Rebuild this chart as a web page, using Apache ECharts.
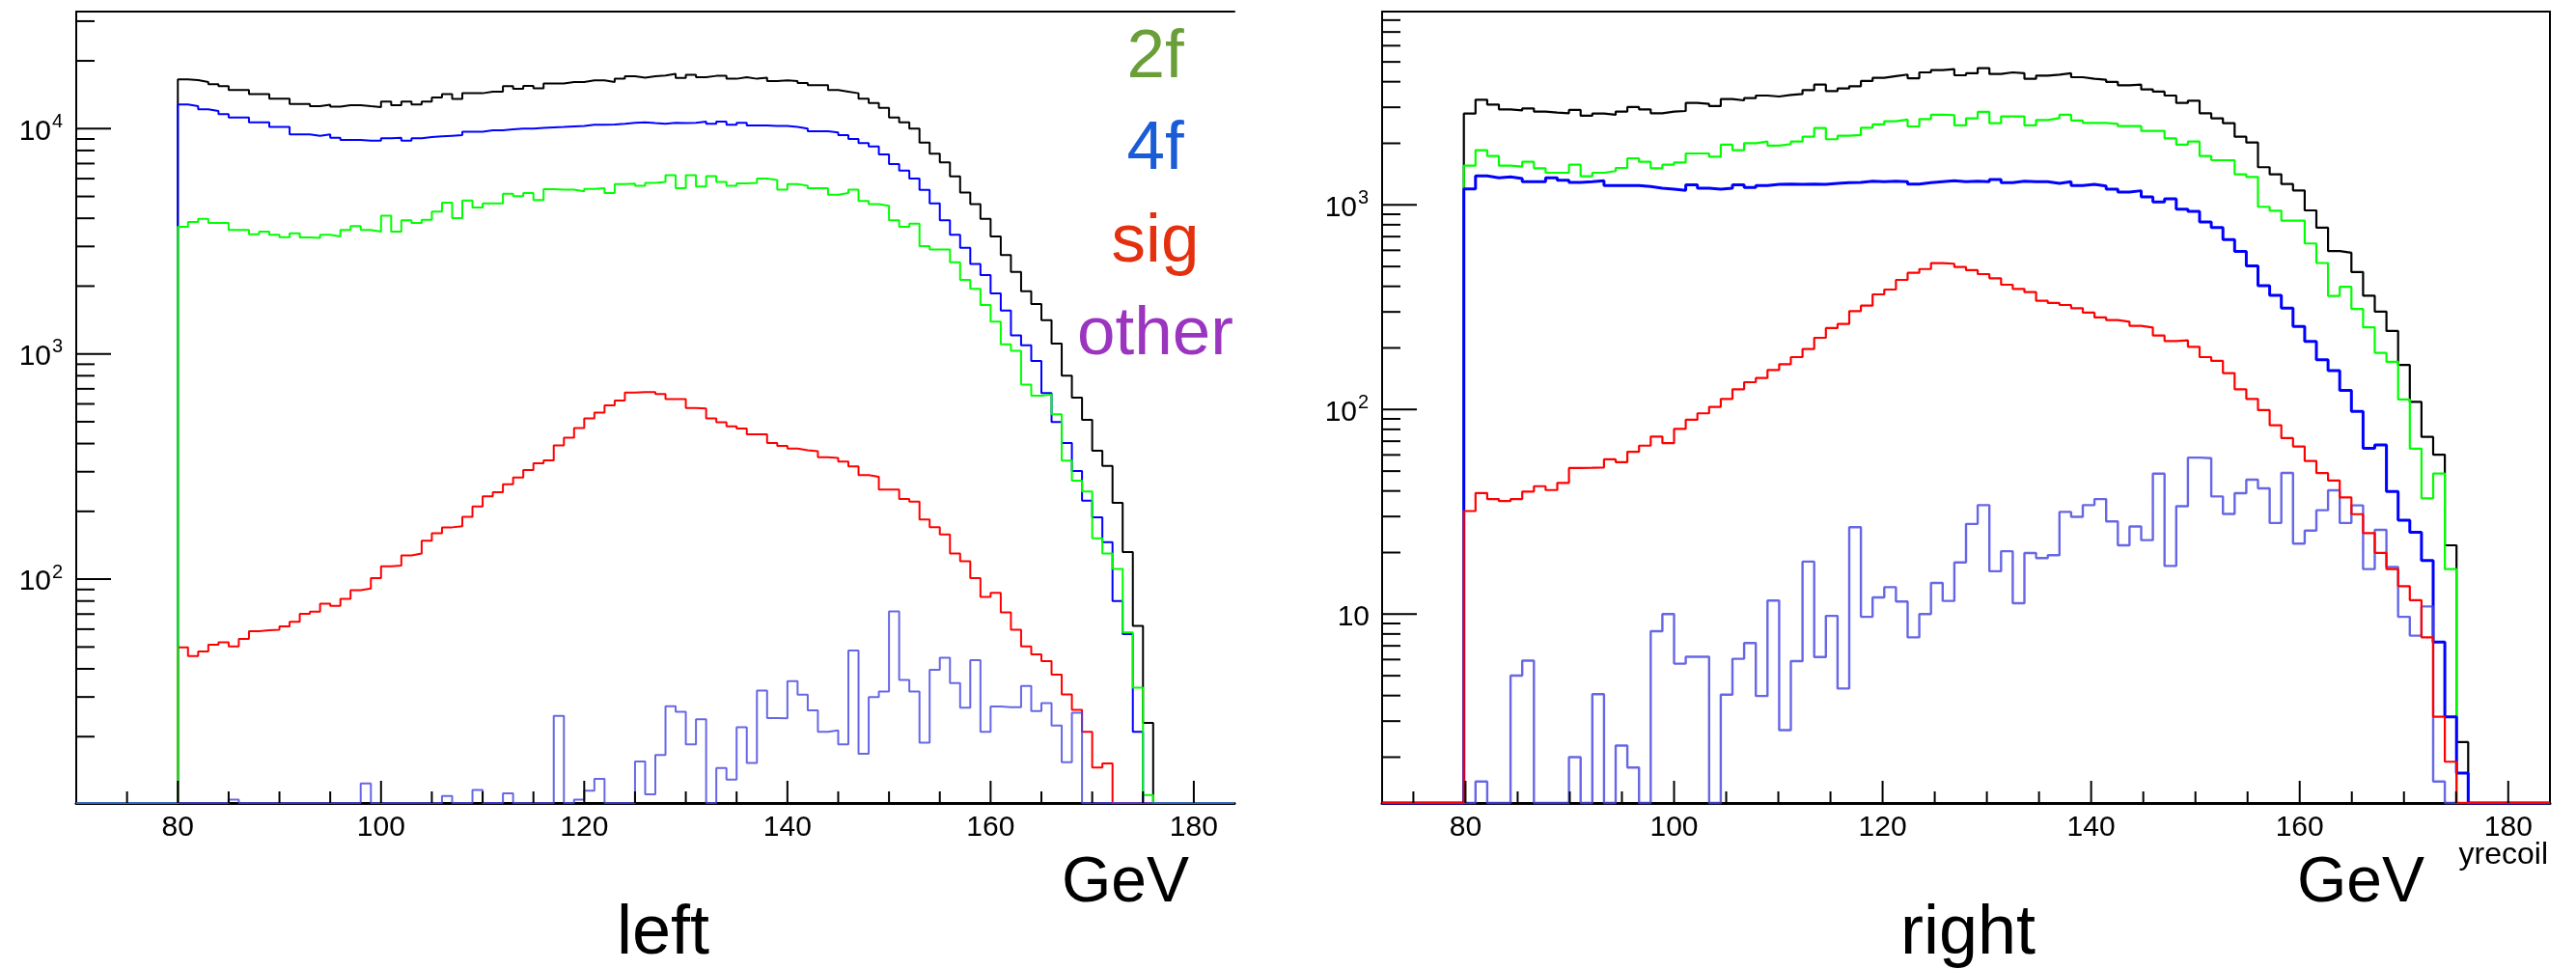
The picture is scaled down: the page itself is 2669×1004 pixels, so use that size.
<!DOCTYPE html>
<html><head><meta charset="utf-8">
<script src="https://cdn.jsdelivr.net/npm/echarts@6/dist/echarts.min.js"></script>
<style>html,body{margin:0;padding:0;background:#fff}#c{width:2669px;height:1004px}</style>
</head><body><div id="c"></div>
<script>
// ================= DATA =================
// Left panel: 1 GeV bins, first bin starts at 80 GeV
const leftBinStart = 80, leftBinWidth = 1;
const leftBlack = [16540,16430,16110,15750,15440,14840,14840,14220,14220,13580,13580,12880,12880,12590,12760,12510,12720,12720,12590,12470,
 13180,12720,13180,12800,13180,13760,14220,13540,14360,14360,14600,14600,15440,15040,15490,15090,15850,15850,16110,16110,
 16380,16380,16110,16650,17100,16820,17100,17200,17500,16800,17320,16930,17150,17150,16650,16930,16650,16820,16270,16380,
 16270,15950,15590,15590,14840,14600,14360,13580,13010,12380,11220,10680,10000,8680,7740,7080,6140,5210,4620,3980,
 3320,2750,2310,1900,1665,1410,1110,800,640,510,372,318,218,132,62,23];
const leftBlue = [12800,12590,12180,11980,11590,11220,11220,10680,10680,10170,10170,9430,9430,9300,9430,9120,8910,8910,8850,8850,
 9060,9120,8850,9060,9180,9240,9300,9360,9680,9680,9840,9840,9930,10000,10000,10070,10130,10170,10230,10270,
 10400,10400,10440,10500,10610,10680,10580,10500,10610,10580,10610,10750,10500,10750,10400,10610,10340,10340,10270,10270,
 10170,10000,9740,9740,9610,9360,9000,8620,8340,7690,6960,6520,6000,5350,4660,3920,3380,2960,2510,2240,
 1855,1560,1210,1093,930,670,499,402,302,223,188,146,80,57,21,0];
const leftGreen = [3665,3850,3980,3815,3815,3550,3550,3400,3490,3380,3300,3430,3290,3270,3380,3320,3550,3690,3550,3490,
 4110,3490,3920,3815,3940,4280,4690,4010,4800,4470,4660,4660,5140,5010,5180,4820,5390,5360,5360,5270,
 5400,5440,5180,5680,5700,5580,5750,5800,6210,5440,6210,5530,6150,5800,5580,5710,5750,6000,5910,5360,
 5680,5580,5440,5440,5095,5180,5360,4770,4620,4540,3920,3665,3790,3010,2910,2910,2550,2130,1943,1648,
 1390,1104,1033,731,652,660,540,336,274,245,152,130,111,58,33,11];
const leftRed = [49.8,45.6,47.8,51.2,52.5,50.3,54.3,58.7,59.3,59.7,61.8,64.7,70.1,71.8,77.8,76.2,81.7,89.4,91,101,
 114,115,127.6,129.9,148.3,160.1,169.9,171.7,189.3,210.2,233.3,243.3,263.6,282.7,305.1,327.2,336.5,392.3,425,469,
 518,549,591,621,674,677,677,663,631,631,575,572,518,497,477,467,440,440,402,391,
 380,374,370,348,345,333,317,290,285,250,250,227,221,184,170,158,130,120,101,83.4,
 87,71.3,59.7,50.3,46.4,43.3,37.7,30.8,26.3,21,14.6,15.2,0,0,0,0];
const leftOther = [0,0,0,0,0,10.5,0,0,0,0,0,0,0,0,0,0,0,0,12.4,0,
 0,0,0,0,0,0,10.9,0,0,11.6,0,0,11.2,0,0,0,0,24.7,0,10.5,
 11.5,13,0,0,0,15.5,11.1,16.6,27.3,25.8,18.5,23.9,0,14.5,12.9,22,15.3,32,24.2,24.1,
 35.3,30.7,26.2,21,21.3,18.5,48.2,16.8,30,31.7,72,35.7,31.7,18.8,39.6,44.8,34.6,26.9,43.7,21,
 27.2,27,27,33.6,26,28.2,22.4,15.4,25.5,0,0,0,0,0,0,0];

// Right panel: 1.12 GeV bins, first filled bin starts at 79.84 GeV
const rightBinStart = 79.84, rightBinWidth = 1.12;
const rightBlack = [2796,3268,3095,2931,2899,2963,2858,2827,2806,2910,2726,2796,2756,2858,3006,2931,2806,2858,2878,3151,
 3117,3039,3291,3243,3327,3424,3387,3449,3487,3641,3873,3602,3708,3804,4031,4179,4256,4334,4160,4444,
 4558,4608,4300,4397,4659,4365,4444,4397,4134,4287,4334,4397,4209,4134,4089,3987,3845,3873,3668,3577,
 3424,3151,3232,2806,2649,2508,2154,2018,1528,1411,1265,1177,940,774,595,584,470,360,301,242,
 165,109,73.5,60.2,21.7,2.37];
const rightGreen = [1555,1851,1734,1555,1538,1624,1511,1436,1436,1572,1380,1436,1463,1516,1690,1624,1511,1572,1613,1784,
 1784,1721,1968,1851,2004,2040,1947,1983,2040,2154,2376,2094,2178,2194,2385,2473,2564,2611,2419,2630,
 2756,2748,2446,2649,2848,2508,2707,2707,2446,2601,2657,2756,2582,2517,2517,2490,2428,2428,2299,2299,
 2116,1968,2040,1734,1654,1654,1411,1370,979,937,838,838,648,520,359,398,310,252,189,171,
 112,64.4,36.8,48.7,16.6,0];
const rightBlue = [1198,1385,1356,1370,1345,1298,1298,1356,1321,1289,1298,1312,1243,1243,1243,1229,1207,1194,1177,1252,
 1207,1194,1207,1252,1216,1243,1261,1265,1261,1265,1261,1274,1284,1289,1307,1298,1307,1298,1265,1284,
 1298,1312,1298,1307,1298,1331,1284,1307,1298,1298,1274,1298,1243,1261,1238,1194,1156,1173,1095,1033,
 1071,954,930,825,776,677,592,503,403,361,313,254.5,215,175,155,124,98,64.6,67.2,39.8,
 28.8,25.1,18.3,7.3,3.15,1.67];
const rightRed = [31.9,39.1,36.5,35.7,36.5,39.7,42.2,40.4,43.8,51.8,51.9,52.1,57.1,55.3,62.2,66.6,73.8,68.5,80.5,89.1,
 95.8,103,112.7,125.6,136,142.6,156.1,166.6,180.4,197.6,224.2,250,262,302.8,322,365.5,385.8,430,465.8,486,
 519,516,497,479.6,459,438,407.4,388.8,374.9,340,331.5,324.3,312.9,297.4,281.7,273.6,268.7,256.4,251.8,229.9,
 216.2,217.8,202.6,180.4,172.8,150.6,125.6,112.7,99.3,83.8,72.5,66,56.1,48.9,45,37.2,30.8,24.9,19.9,16.6,
 13.7,11.7,7.7,3.15,1.9,0];
const rightOther = [0,1.52,0,0,5.01,5.93,0,0,0,2.0,0,4.06,0,2.28,1.78,0,8.25,10,5.73,6.19,
 6.19,0,4.04,6.05,7.22,3.98,11.66,2.71,5.89,18.06,6.17,9.81,4.33,26.6,9.7,12.07,13.54,11.53,7.7,10,
 14.2,11.6,17.9,27.6,34.1,16.2,20.3,11.3,19.9,18.8,19.4,31.6,29.9,34.1,36.5,28.4,21.7,26.8,23,48.6,
 17.2,33.7,58.2,57.8,37.6,30.9,39,45.4,41.2,27.9,49,22.1,25.6,32.2,40.3,27.9,34,16.6,25.8,17,
 9.7,7.85,10.9,1.52,0,0];

// Axis ticks and labels
const xMajorTicks = [80,100,120,140,160,180];
const xMinorTicks = [75,85,90,95,105,110,115,125,130,135,145,150,155,165,170,175];
const leftYMajor = [100,1000,10000];
const leftYMajorExp = ['2','3','4'];
const leftYMinor = [20,30,40,50,60,70,80,90,200,300,400,500,600,700,800,900,2000,3000,4000,5000,6000,7000,8000,9000,20000,30000];
const rightYMajor = [10,100,1000];
const rightYMajorExp = ['','2','3'];
const rightYMinor = [2,3,4,5,6,7,8,9,20,30,40,50,60,70,80,90,200,300,400,500,600,700,800,900,2000,3000,4000,5000,6000,7000,8000];
const legendNames = ['2f','4f','sig','other'];
const legendColors = ['#6a9e38','#1a5cd6','#e3300f','#9b34bf'];
const panelTitles = ['left','right'];
const unitLabel = 'GeV';
const xVarLabel = 'yrecoil';

// ================= CHART =================
const FONT = '"Liberation Sans", Arial, Helvetica, sans-serif';
const L = {xmin:70, xmax:184, ymin:10.15, ymax:33090};
const R = {xmin:72, xmax:184, ymin:1.194, ymax:8807};

function histPoints(start, width, vals, rng){
  const pts=[[rng.xmin, rng.ymin]];
  for(let i=0;i<vals.length;i++) pts.push([+(start+i*width).toFixed(4), vals[i]>0?vals[i]:rng.ymin]);
  pts.push([+(start+vals.length*width).toFixed(4), rng.ymin]);
  pts.push([rng.xmax, rng.ymin]);
  return pts;
}
function hist(name, xi, yi, pts, color, w){
  return {name, type:'line', xAxisIndex:xi, yAxisIndex:yi, data:pts, step:'end',
    showSymbol:false, symbol:'none', clip:false, silent:true, animation:false,
    lineStyle:{color, width:w}};
}
function decor(xi, yi, rng, yMajor, yExp, yMinor){
  return {type:'custom', xAxisIndex:xi, yAxisIndex:yi, data:[[rng.xmin, rng.ymin]], clip:false, silent:true, z:10, animation:false,
    renderItem:function(params, api){
      const ch=[];
      const ln=(x1,y1,x2,y2)=>ch.push({type:'line',shape:{x1,y1,x2,y2},style:{stroke:'#000',lineWidth:2}});
      const tx=(x,y,t,size,align)=>ch.push({type:'text',x,y,style:{text:t,font:size+'px '+FONT,fill:'#000',align:align,verticalAlign:'middle'}});
      yMajor.forEach((v,i)=>{
        const p=api.coord([rng.xmin,v]); ln(p[0],p[1],p[0]+36,p[1]);
        if(yExp[i]){ tx(p[0]-26,p[1]+3,'10',30,'right'); tx(p[0]-25,p[1]-7,yExp[i],20,'left'); }
        else { tx(p[0]-13,p[1]+3,'10',30,'right'); }
      });
      yMinor.forEach(v=>{ if(v>rng.ymin && v<rng.ymax){const p=api.coord([rng.xmin,v]); ln(p[0],p[1],p[0]+19,p[1]);} });
      xMajorTicks.forEach(v=>{ const p=api.coord([v,rng.ymin]); ln(p[0],p[1],p[0],p[1]-23); tx(p[0],p[1]+26,String(v),30,'center'); });
      xMinorTicks.forEach(v=>{ if(v>rng.xmin){const p=api.coord([v,rng.ymin]); ln(p[0],p[1],p[0],p[1]-12);} });
      return {type:'group',children:ch};
    }};
}
const axisLineOnly = (w)=>({show:true,onZero:false,lineStyle:{color:'#000',width:w}});
const hidden = {axisTick:{show:false},axisLabel:{show:false},splitLine:{show:false}};

const OTHER_COL = 'rgba(70,70,225,0.82)';
const option = {
  backgroundColor:'#ffffff',
  animation:false,
  grid:[{left:79,top:12,width:1200,height:820},{left:1432,top:12,width:1210,height:820}],
  xAxis:[
    Object.assign({gridIndex:0,type:'value',min:L.xmin,max:L.xmax,position:'bottom',axisLine:axisLineOnly(3)},hidden),
    Object.assign({gridIndex:0,type:'value',min:0,max:1,position:'top',axisLine:axisLineOnly(2)},hidden),
    Object.assign({gridIndex:1,type:'value',min:R.xmin,max:R.xmax,position:'bottom',axisLine:axisLineOnly(3)},hidden),
    Object.assign({gridIndex:1,type:'value',min:0,max:1,position:'top',axisLine:axisLineOnly(2)},hidden)
  ],
  yAxis:[
    Object.assign({gridIndex:0,type:'log',logBase:10,min:L.ymin,max:L.ymax,position:'left',axisLine:axisLineOnly(2)},hidden),
    Object.assign({gridIndex:1,type:'log',logBase:10,min:R.ymin,max:R.ymax,position:'left',axisLine:axisLineOnly(2)},hidden),
    Object.assign({gridIndex:1,type:'value',min:0,max:1,position:'right',axisLine:axisLineOnly(2)},hidden)
  ],
  series:[
    hist('L_all',0,0,histPoints(leftBinStart,leftBinWidth,leftBlack,L),'#000000',2),
    hist('L_4f',0,0,histPoints(leftBinStart,leftBinWidth,leftBlue,L),'#0000ff',2),
    hist('L_sig',0,0,histPoints(leftBinStart,leftBinWidth,leftRed,L),'#ff0000',2),
    hist('L_2f',0,0,histPoints(leftBinStart,leftBinWidth,leftGreen,L),'#00ff00',2),
    hist('L_other',0,0,histPoints(leftBinStart,leftBinWidth,leftOther,L),OTHER_COL,2),
    hist('R_all',2,1,histPoints(rightBinStart,rightBinWidth,rightBlack,R),'#000000',2.2),
    hist('R_2f',2,1,histPoints(rightBinStart,rightBinWidth,rightGreen,R),'#00ff00',2.2),
    hist('R_4f',2,1,histPoints(rightBinStart,rightBinWidth,rightBlue,R),'#0000ff',3),
    hist('R_other',2,1,histPoints(rightBinStart,rightBinWidth,rightOther,R),OTHER_COL,2.4),
    hist('R_sig',2,1,histPoints(rightBinStart,rightBinWidth,rightRed,R),'#ff0000',2.2),
    decor(0,0,L,leftYMajor,leftYMajorExp,leftYMinor),
    decor(2,1,R,rightYMajor,rightYMajorExp,rightYMinor)
  ],
  graphic:[
    ...legendNames.map((t,i)=>({type:'text',x:1197,y:60+95.7*i,style:{text:t,font:'71px '+FONT,fill:legendColors[i],align:'center',verticalAlign:'middle'}})),
    {type:'text',x:1232,y:916,style:{text:unitLabel,font:'66px '+FONT,fill:'#000',align:'right',verticalAlign:'middle'}},
    {type:'text',x:2512,y:916,style:{text:unitLabel,font:'66px '+FONT,fill:'#000',align:'right',verticalAlign:'middle'}},
    {type:'text',x:2640,y:886,style:{text:xVarLabel,font:'32px '+FONT,fill:'#000',align:'right',verticalAlign:'middle'}},
    {type:'text',x:687,y:968,style:{text:panelTitles[0],font:'72px '+FONT,fill:'#000',align:'center',verticalAlign:'middle'}},
    {type:'text',x:2039,y:968,style:{text:panelTitles[1],font:'72px '+FONT,fill:'#000',align:'center',verticalAlign:'middle'}}
  ]
};
const chart = echarts.init(document.getElementById('c'), null, {renderer:'canvas', width:2669, height:1004});
chart.setOption(option);
</script></body></html>
